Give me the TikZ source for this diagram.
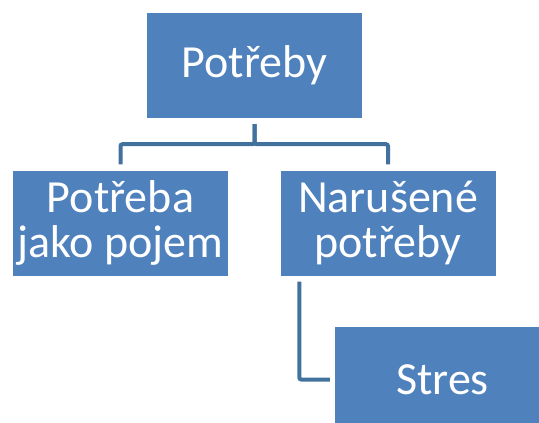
\documentclass[tikz,border=0pt]{standalone}
\usepackage{fontspec}
\setmainfont{Carlito}
\definecolor{boxblue}{HTML}{4F81BD}
\definecolor{lineblue}{HTML}{41719C}
\begin{document}
\begin{tikzpicture}[
    x=1pt,
    y=-1pt,
    every node/.style={
      fill=boxblue,
      text=white,
      minimum width=215pt,
      minimum height=105pt,
      inner sep=0pt,
      align=center,
      font=\fontsize{46}{45}\selectfont
    },
    conn/.style={
      draw=lineblue,
      line width=4pt,
      rounded corners=2pt,
      shorten <=6pt,
      shorten >=6pt
    }
  ]
    \useasboundingbox (0, 0) rectangle (539, 423);
    \node (needs) at (254.5, 65.5) {Potřeby};
    \node (concept) at (120.5, 223) {Potřeba\\jako pojem};
    \node (disturbed) at (388, 223) {Narušené\\potřeby};
    \node (stress) at (442.5, 379.5) {Stres};

    \draw[conn] (needs.south) -- ++(0, 26) -| (concept.north);
    \draw[conn] (needs.south) -- ++(0, 26) -| (disturbed.north);
    \draw[conn, shorten >=5pt] ([xshift=19pt]disturbed.south west) |- (stress.west);

  \end{tikzpicture}
\end{document}
